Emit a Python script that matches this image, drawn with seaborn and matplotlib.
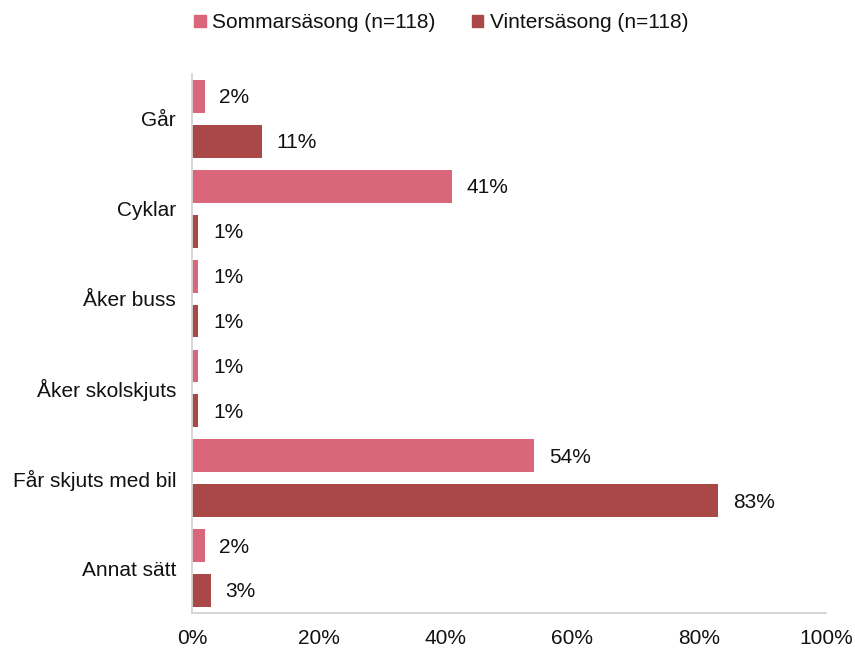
import matplotlib
matplotlib.use("Agg")
import matplotlib.pyplot as plt
import seaborn as sns
import pandas as pd

categories = ["Går", "Cyklar", "Åker buss", "Åker skolskjuts", "Får skjuts med bil", "Annat sätt"]
summer = [2, 41, 1, 1, 54, 2]
winter = [11, 1, 1, 1, 83, 3]
series_names = ["Sommarsäsong (n=118)", "Vintersäsong (n=118)"]
x_ticks = [0, 20, 40, 60, 80, 100]
colors = ["#D9667A", "#A94847"]

sns.set_theme(style="white")
plt.rcParams["font.family"] = ["Liberation Sans", "DejaVu Sans"]

FS = 15

df = pd.DataFrame({
    "category": categories * 2,
    "value": summer + winter,
    "season": [series_names[0]] * len(categories) + [series_names[1]] * len(categories),
})

fig = plt.figure(figsize=(8.55, 6.48), dpi=100)
ax = fig.add_axes([192 / 855, 1 - 613 / 648, (826 - 192) / 855, (613 - 74) / 648])

sns.barplot(data=df, y="category", x="value", hue="season", orient="h",
            palette=colors, saturation=1, width=1.0, gap=0.27,
            linewidth=0, errorbar=None, ax=ax, legend=False)

# value labels just to the right of each bar
for container in ax.containers:
    for patch in container:
        w = patch.get_width()
        ax.annotate(f"{w:.0f}%", xy=(w, patch.get_y() + patch.get_height() / 2),
                    xytext=(10.5, -1), textcoords="offset points",
                    ha="left", va="center", fontsize=FS, color="#111111")

ax.set_xlim(0, 100)
ax.set_ylim(len(categories) - 0.5, -0.5)
ax.set_xticks(x_ticks)
ax.set_xticklabels([f"{t}%" for t in x_ticks])
ax.set_xlabel("")
ax.set_ylabel("")
ax.tick_params(axis="both", length=0, labelsize=FS, labelcolor="#111111")
ax.tick_params(axis="y", pad=11.5)
ax.tick_params(axis="x", pad=11.5)
for lbl in ax.get_yticklabels():
    lbl.set_va("center_baseline")
for s in ["top", "right"]:
    ax.spines[s].set_visible(False)
for s in ["left", "bottom"]:
    ax.spines[s].set_color("#D4D4D4")
    ax.spines[s].set_linewidth(1.3)

handles = [plt.Rectangle((0, 0), 1, 1, color=c) for c in colors]
fig.legend(handles, series_names, loc="center", bbox_to_anchor=(0.516, 0.965),
           ncol=2, frameon=False, fontsize=FS, handlelength=0.55, handleheight=0.55,
           handletextpad=0.3, columnspacing=1.75, labelcolor="#111111")

fig.savefig("out.png", dpi=100)
